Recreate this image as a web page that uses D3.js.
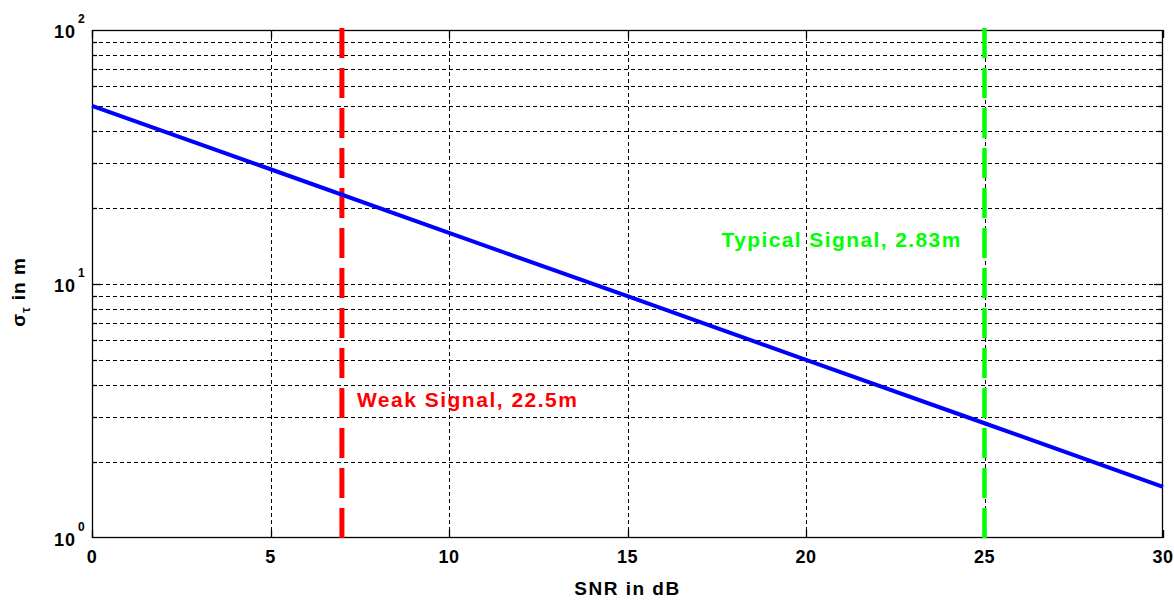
<!DOCTYPE html>
<html><head><meta charset="utf-8">
<script src="https://cdn.jsdelivr.net/npm/d3@7"></script>
<style>body{margin:0;background:#fff}svg{display:block}text{font-family:"Liberation Sans",Arial,sans-serif;font-weight:bold}</style>
</head><body><svg id="c" width="1174" height="601"></svg>
<script>
const snr = [0, 5, 10, 15, 20, 25, 30];
const sigma = [50.3, 28.3, 15.9, 8.95, 5.03, 2.83, 1.59];
const xTicks = [0, 5, 10, 15, 20, 25, 30];
const yDecades = [0, 1, 2];
const markerSnr = [7, 25];
const markerLabels = ["Weak Signal, 22.5m", "Typical Signal, 2.83m"];
const xLabel = "SNR in dB";

const svg = d3.select("#c");
const L = 92, R = 1163, T = 30, B = 538;
const x = d3.scaleLinear().domain([0, 30]).range([L, R]);
const y = d3.scaleLog().domain([1, 100]).range([B, T]);

const minors = [];
for (let d = 1; d <= 10; d *= 10) for (let k = 1; k <= 9; k++) { const v = d * k; if (v > 1 && v < 100) minors.push(v); }

// grid
const g = svg.append("g").attr("stroke", "#000").attr("stroke-width", 1).attr("stroke-dasharray", "4,3");
g.selectAll("line.h").data(minors).join("line")
  .attr("x1", L).attr("x2", R).attr("y1", d => Math.round(y(d)) + 0.5).attr("y2", d => Math.round(y(d)) + 0.5);
g.selectAll("line.v").data(xTicks.slice(1, -1)).join("line")
  .attr("y1", T).attr("y2", B).attr("x1", d => Math.round(x(d)) + 0.5).attr("x2", d => Math.round(x(d)) + 0.5);

// box
svg.append("rect").attr("x", L + 0.5).attr("y", T + 0.5).attr("width", R - L - 1).attr("height", B - T - 1)
  .attr("fill", "none").attr("stroke", "#000").attr("stroke-width", 1.3);

// ticks
const tk = svg.append("g").attr("stroke", "#000").attr("stroke-width", 1.3);
xTicks.forEach(v => {
  const px = Math.round(x(v)) + 0.5;
  tk.append("line").attr("x1", px).attr("x2", px).attr("y1", B).attr("y2", B - 8);
  tk.append("line").attr("x1", px).attr("x2", px).attr("y1", T).attr("y2", T + 8);
});
minors.forEach(v => {
  const py = Math.round(y(v)) + 0.5;
  const len = (v === 10) ? 9 : 5;
  tk.append("line").attr("x1", L).attr("x2", L + len).attr("y1", py).attr("y2", py);
  tk.append("line").attr("x1", R).attr("x2", R - len).attr("y1", py).attr("y2", py);
});

// tick labels
svg.append("g").selectAll("text").data(xTicks).join("text")
  .attr("x", d => x(d)).attr("y", B + 25).attr("text-anchor", "middle")
  .attr("font-size", 18).attr("letter-spacing", 0.5).text(d => d);
yDecades.forEach(e => {
  const py = y(Math.pow(10, e));
  svg.append("text").attr("x", 76).attr("y", py + 8).attr("text-anchor", "end")
    .attr("font-size", 18).attr("letter-spacing", 1).text("10");
  svg.append("text").attr("x", 78).attr("y", py - 7)
    .attr("font-size", 12).text(e);
});

// axis labels
svg.append("text").attr("x", (L + R) / 2).attr("y", 595).attr("text-anchor", "middle")
  .attr("font-size", 19).attr("letter-spacing", 1.5).text(xLabel);
const yl = svg.append("text").attr("transform", "translate(25,292) rotate(-90)").attr("text-anchor", "middle")
  .attr("font-size", 19).attr("letter-spacing", 1);
yl.append("tspan").text("σ");
yl.append("tspan").attr("font-size", 12).attr("dy", 5).text("τ");
yl.append("tspan").attr("dy", -5).text(" in m");

// markers
const mColors = ["#ff0000", "#00ff00"];
const mWidths = [5, 4.5];
svg.append("g").selectAll("line").data(markerSnr).join("line")
  .attr("x1", d => x(d)).attr("x2", d => x(d)).attr("y1", T - 2).attr("y2", B)
  .attr("stroke", (d, i) => mColors[i]).attr("stroke-width", (d, i) => mWidths[i])
  .attr("stroke-dasharray", "30,10");

// data line
svg.append("path").datum(snr.map((s, i) => [s, sigma[i]]))
  .attr("d", d3.line().x(d => x(d[0])).y(d => y(d[1])))
  .attr("fill", "none").attr("stroke", "#0000ff").attr("stroke-width", 4);

// annotations
svg.append("text").attr("x", x(markerSnr[0]) + 15).attr("y", 407)
  .attr("fill", mColors[0]).attr("font-size", 21).attr("letter-spacing", 1.5).text(markerLabels[0]);
svg.append("text").attr("x", x(markerSnr[1]) - 263).attr("y", 247)
  .attr("fill", mColors[1]).attr("font-size", 21).attr("letter-spacing", 1.4).text(markerLabels[1]);
</script></body></html>
